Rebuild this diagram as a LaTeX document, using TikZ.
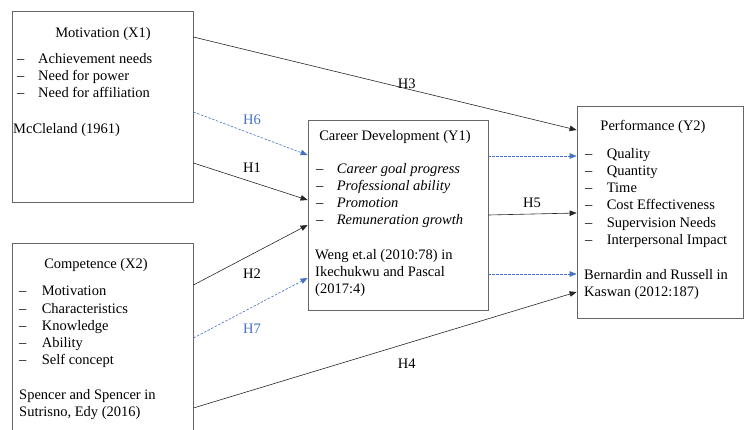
\documentclass[tikz,border=0pt]{standalone}
\usepackage{fontspec}
\setmainfont{Liberation Serif}
\usetikzlibrary{arrows.meta, positioning}
\definecolor{hypblue}{HTML}{4472C4}
\tikzset{
  box/.style = {draw=black!60, line width=0.8pt, inner sep=0pt},
  txt/.style = {inner sep=0pt, align=left, anchor=north west},
  ttl/.style = {inner sep=0pt, anchor=base},
  link/.style = {draw=black!85, line width=0.6pt, -{Triangle[length=7pt, width=5.5pt]}},
  medlink/.style = {draw=hypblue, line width=0.6pt, dash pattern=on 2.5pt off 1.5pt,
    -{Triangle[length=7pt, width=5.5pt, fill=hypblue]}},
  hyp/.style = {inner sep=0pt, text=black},
  bluehyp/.style = {inner sep=0pt, text=hypblue}
}
\newcommand{\itm}[1][21pt]{\makebox[#1][l]{--}}

\begin{document}
\begin{tikzpicture}[x=1pt, y=-1pt, font=\fontsize{14.5}{17.2}\selectfont]

  \useasboundingbox (0,0) rectangle (744,429);

  % Motivation (X1)
  \node[box, minimum width=181pt, minimum height=191pt] (mot) at (102.5,106.5) {};
  \node[ttl] (motT) at (103,37) {Motivation (X1)};
  \node[txt] (motL) at (17,53) {\itm Achievement needs\\ \itm Need for power\\ \itm Need for affiliation};
  \node[txt] (motS) at (13,123) {McCleland (1961)};

  % Competence (X2)
  \node[box, minimum width=181pt, minimum height=197pt] (com) at (102.5,341.5) {};
  \node[ttl] (comT) at (96,268) {Competence (X2)};
  \node[txt] (comL) at (19,286) {\itm[19pt] Motivation\\ \itm[19pt] Characteristics\\
    \itm[19pt] Knowledge\\ \itm[19pt] Ability\\ \itm[19pt] Self concept};
  \node[txt] (comS) at (19,389) {Spencer and Spencer in\\ Sutrisno, Edy (2016)};

  % Career Development (Y1)
  \node[box, minimum width=180pt, minimum height=190pt] (car) at (398,215) {};
  \node[ttl] (carT) at (395,140) {Career Development (Y1)};
  \node[txt] (carL) at (316,163) {\itm[17pt] \textit{Career goal progress}\\
    \itm[17pt] \textit{Professional ability}\\ \itm[17pt] \textit{Promotion}\\
    \itm[17pt] \textit{Remuneration growth}};
  \node[txt] (carS) at (315,249) {Weng et.al (2010:78) in\\ Ikechukwu and Pascal\\ (2017:4)};

  % Performance (Y2)
  \node[box, minimum width=166.6pt, minimum height=212pt] (per) at (660.3,212) {};
  \node[ttl] (perT) at (653,130) {Performance (Y2)};
  \node[txt] (perL) at (585,148) {\itm[18pt] Quality\\ \itm[18pt] Quantity\\ \itm[18pt] Time\\
    \itm[18pt] Cost Effectiveness\\ \itm[18pt] Supervision Needs\\ \itm[18pt] Interpersonal Impact};
  \node[txt] (perS) at (584,269) {Bernardin and Russell in\\ Kaswan (2012:187)};

  % Direct effects
  \draw[link] (mot.east |- 0,37) -- node[hyp, above=0pt, pos=.557] (h3) {H3} (per.west |- 0,130);
  \draw[link] (mot.east |- 0,163) -- node[hyp, above=9pt, pos=.513] (h1) {H1} (car.west |- 0,200);
  \draw[link] (com.east |- 0,285) -- node[hyp, below=14pt, pos=.513] (h2) {H2} (car.west |- 0,225);
  \draw[link] (com.east |- 0,408) -- node[hyp, below=15pt, pos=.557] (h4) {H4} (per.west |- 0,292);
  \draw[link] (car.east |- 0,215) -- node[hyp, above=6pt, pos=.494] (h5) {H5} (per.west |- 0,213);

  % Mediated effects
  \draw[medlink] (mot.east |- 0,112) -- node[bluehyp, above=9pt, pos=.513] (h6) {H6} (car.west |- 0,155);
  \draw[medlink] (com.east |- 0,338) -- node[bluehyp, below=16pt, pos=.513] (h7) {H7} (car.west |- 0,278);
  \draw[medlink] (car.east |- 0,156) -- (per.west |- 0,156);
  \draw[medlink] (car.east |- 0,274) -- (per.west |- 0,274);

\end{tikzpicture}
\end{document}
